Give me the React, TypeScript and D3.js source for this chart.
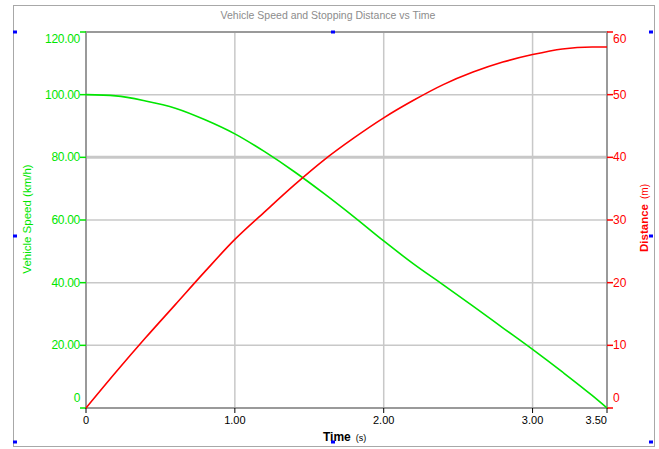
import React, {useEffect, useRef} from 'react';
import * as d3 from 'd3';

// time in seconds
const timeS = [0, 0.2, 0.4, 0.6, 0.8, 1.0, 1.2, 1.4, 1.6, 1.8, 2.0, 2.2, 2.4, 2.6, 2.8, 3.0, 3.2, 3.4, 3.5];
// vehicle speed km/h
const speedKmh = [100, 99.6, 98.0, 95.7, 92.0, 87.5, 81.8, 75.4, 68.4, 61.0, 53.3, 46.0, 39.3, 32.5, 25.6, 18.7, 11.5, 4.0, 0];
// stopping distance m
const distanceM = [0, 5.7, 11.2, 16.5, 21.8, 26.9, 31.3, 35.6, 39.6, 43.1, 46.3, 49.1, 51.6, 53.6, 55.2, 56.4, 57.3, 57.6, 57.6];

const timeTicks = [0, 1, 2, 3, 3.5];
const timeLabels = ['0', '1.00', '2.00', '3.00', '3.50'];
const speedTicks = [0, 20, 40, 60, 80, 100, 120];
const speedLabels = ['0', '20.00', '40.00', '60.00', '80.00', '100.00', '120.00'];
const distTicks = [0, 10, 20, 30, 40, 50, 60];

const GREEN = '#00e600';
const RED = '#ff0000';
const FONT = 'Liberation Sans, Arial, sans-serif';

function App() {
    const ref = useRef<SVGSVGElement | null>(null);

    useEffect(() => {
        const width = 659;
        const height = 449;
        const left = 86, right = 607, top = 32, bottom = 408;

        const svg = d3.select(ref.current);
        svg.selectAll('*').remove();

        const x = d3.scaleLinear().domain([0, 3.5]).range([left, right]);
        const ySpeed = d3.scaleLinear().domain([0, 120]).range([bottom, top]);
        const yDist = d3.scaleLinear().domain([0, 60]).range([bottom, top]);

        svg.append('rect').attr('width', width).attr('height', height).attr('fill', '#fff');

        // outer frame
        svg.append('rect')
            .attr('x', 13.5).attr('y', 5.5)
            .attr('width', 641).attr('height', 441)
            .attr('fill', 'none')
            .attr('stroke', '#a8a8a8');

        // title
        svg.append('text')
            .attr('x', 328).attr('y', 19)
            .attr('text-anchor', 'middle')
            .attr('font-family', FONT)
            .attr('font-size', 10.5)
            .attr('fill', '#8c8c8c')
            .text('Vehicle Speed and Stopping Distance vs Time');

        // grid
        const grid = svg.append('g');
        grid.selectAll('line.h')
            .data(speedTicks.filter((d) => d > 0 && d < 120))
            .enter()
            .append('line')
            .attr('x1', left).attr('x2', right)
            .attr('y1', (d) => ySpeed(d)).attr('y2', (d) => ySpeed(d))
            .attr('stroke', '#c8c8c8')
            .attr('stroke-width', (d) => (d === 80 ? 3 : 1.5));
        grid.selectAll('line.v')
            .data(timeTicks.filter((d) => d > 0 && d < 3.5))
            .enter()
            .append('line')
            .attr('y1', top).attr('y2', bottom)
            .attr('x1', (d) => x(d)).attr('x2', (d) => x(d))
            .attr('stroke', '#c8c8c8')
            .attr('stroke-width', 1.5);

        // plot border
        svg.append('rect')
            .attr('x', left).attr('y', top)
            .attr('width', right - left).attr('height', bottom - top)
            .attr('fill', 'none')
            .attr('stroke', '#9a9a9a')
            .attr('stroke-width', 2);

        // left axis
        const leftAxis = svg.append('g');
        speedTicks.forEach((d, i) => {
            const yy = ySpeed(d);
            leftAxis.append('line')
                .attr('x1', left - 6).attr('x2', left)
                .attr('y1', yy).attr('y2', yy)
                .attr('stroke', GREEN).attr('stroke-width', 1.5);
            let ty = yy + 4;
            if (d === 120) ty = yy + 11;
            if (d === 0) ty = yy - 6;
            leftAxis.append('text')
                .attr('x', left - 6).attr('y', ty)
                .attr('text-anchor', 'end')
                .attr('font-family', FONT)
                .attr('font-size', 12)
                .attr('letter-spacing', -0.3)
                .attr('fill', GREEN)
                .text(speedLabels[i]);
        });

        // right axis
        const rightAxis = svg.append('g');
        distTicks.forEach((d) => {
            const yy = yDist(d);
            rightAxis.append('line')
                .attr('x1', right).attr('x2', right + 6)
                .attr('y1', yy).attr('y2', yy)
                .attr('stroke', RED).attr('stroke-width', 1.5);
            let ty = yy + 4;
            if (d === 60) ty = yy + 11;
            if (d === 0) ty = yy - 6;
            rightAxis.append('text')
                .attr('x', right + 6).attr('y', ty)
                .attr('font-family', FONT)
                .attr('font-size', 12)
                .attr('fill', RED)
                .text(String(d));
        });

        // bottom axis
        const bottomAxis = svg.append('g');
        timeTicks.forEach((d, i) => {
            const xx = x(d);
            bottomAxis.append('line')
                .attr('x1', xx).attr('x2', xx)
                .attr('y1', bottom).attr('y2', bottom + 5)
                .attr('stroke', '#000').attr('stroke-width', 1);
            bottomAxis.append('text')
                .attr('x', xx)
                .attr('y', bottom + 16)
                .attr('text-anchor', d === 3.5 ? 'end' : 'middle')
                .attr('font-family', FONT)
                .attr('font-size', 11)
                .attr('fill', '#000')
                .text(timeLabels[i]);
        });

        // axis titles
        const xTitle = svg.append('text')
            .attr('x', 323).attr('y', 441)
            .attr('font-family', FONT)
            .attr('fill', '#000');
        xTitle.append('tspan').attr('font-size', 12).attr('font-weight', 'bold').text('Time');
        xTitle.append('tspan').attr('font-size', 9).attr('dx', 5).text('(s)');

        svg.append('text')
            .attr('transform', 'translate(31, 219) rotate(-90)')
            .attr('text-anchor', 'middle')
            .attr('font-family', FONT)
            .attr('font-size', 11.5)
            .attr('fill', GREEN)
            .text('Vehicle Speed (km/h)');

        const yTitle = svg.append('text')
            .attr('transform', 'translate(648, 218) rotate(-90)')
            .attr('text-anchor', 'middle')
            .attr('font-family', FONT)
            .attr('fill', RED);
        yTitle.append('tspan').attr('font-size', 11.5).attr('font-weight', 'bold').text('Distance');
        yTitle.append('tspan').attr('font-size', 10).attr('dx', 5).text('(m)');

        // lines
        const speedLine = d3.line<number>()
            .x((_, i) => x(timeS[i]))
            .y((d) => ySpeed(d))
            .curve(d3.curveMonotoneX);
        const distLine = d3.line<number>()
            .x((_, i) => x(timeS[i]))
            .y((d) => yDist(d))
            .curve(d3.curveMonotoneX);

        svg.append('path')
            .attr('d', speedLine(speedKmh))
            .attr('fill', 'none')
            .attr('stroke', GREEN)
            .attr('stroke-width', 1.6);
        svg.append('path')
            .attr('d', distLine(distanceM))
            .attr('fill', 'none')
            .attr('stroke', RED)
            .attr('stroke-width', 1.6);

        // selection handles
        const handles = [[15, 32], [333, 32], [651, 32], [15, 236], [651, 236], [15, 442], [333, 442], [651, 442]];
        svg.selectAll('rect.handle')
            .data(handles)
            .enter()
            .append('rect')
            .attr('class', 'handle')
            .attr('x', (d) => d[0] - 2).attr('y', (d) => d[1] - 1.5)
            .attr('width', 4).attr('height', 3)
            .attr('fill', '#0000ff');
    }, []);

    return (
        <svg ref={ref} width={659} height={449}
             style={{position: 'absolute', left: 0, top: 0, display: 'block'}}/>
    );
}

export default App;
